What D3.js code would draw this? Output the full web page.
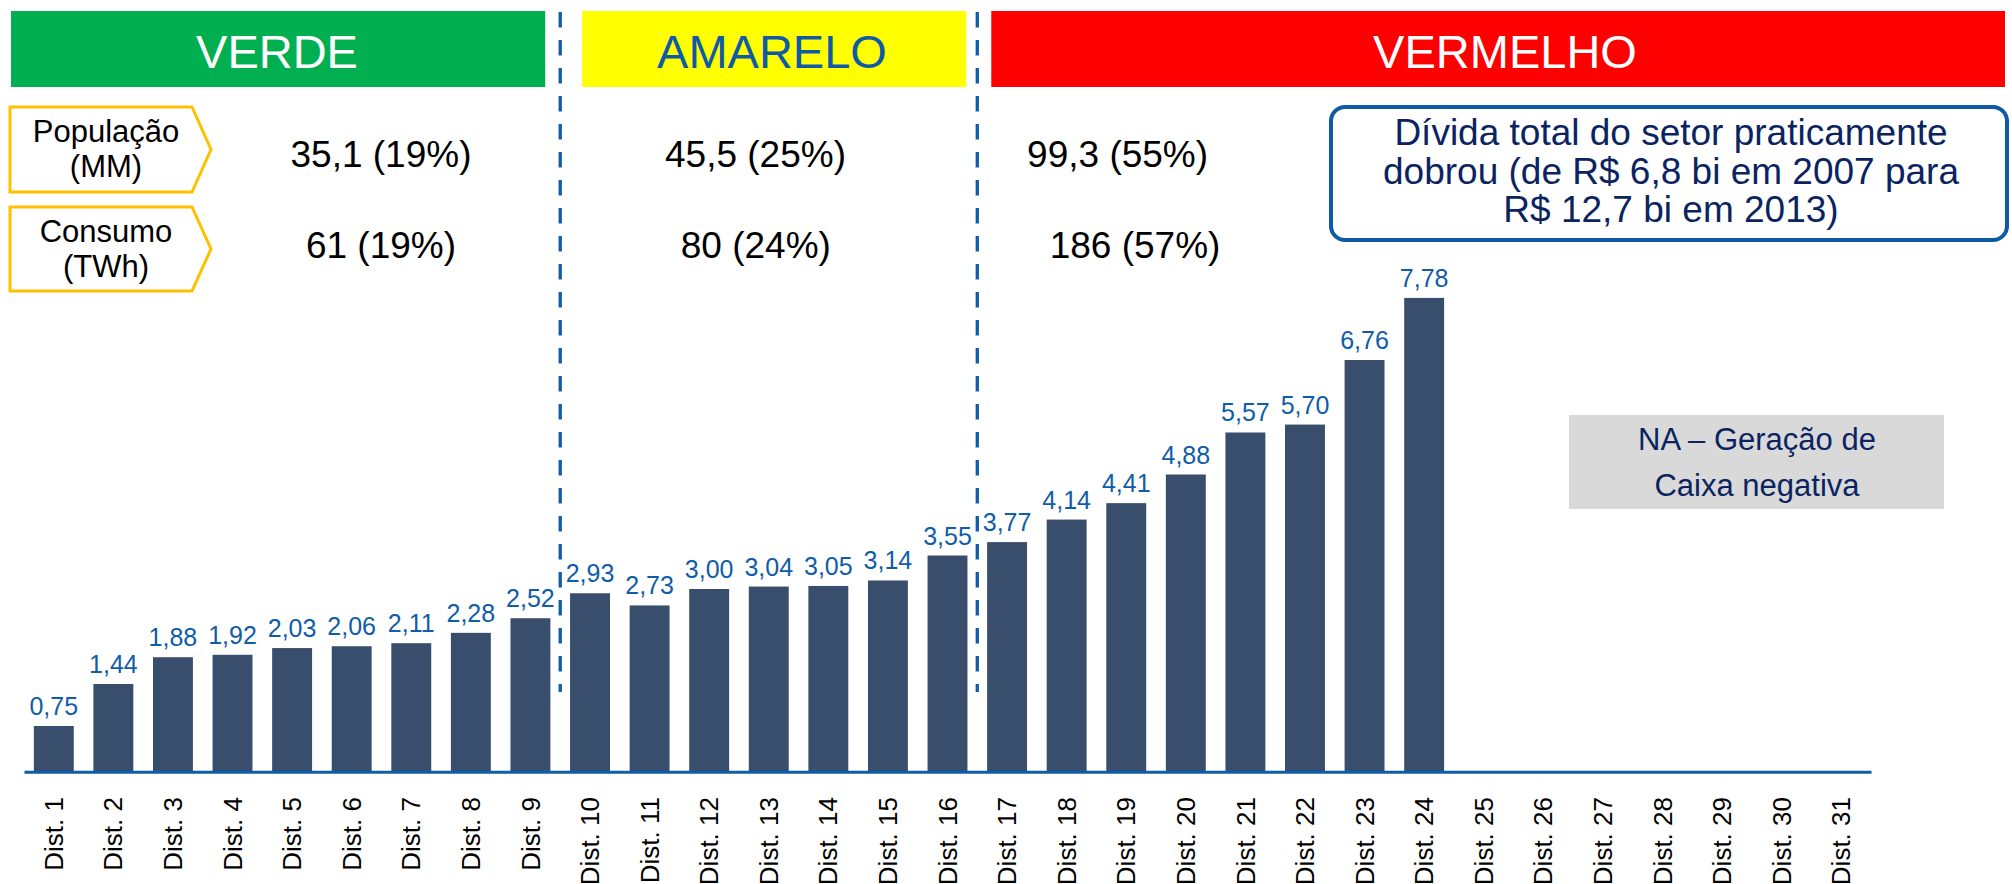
<!DOCTYPE html>
<html>
<head>
<meta charset="utf-8">
<script src="https://cdn.jsdelivr.net/npm/d3@7"></script>
<style>
  body { margin: 0; background: #fff; }
  svg { display: block; font-family: "Liberation Sans", Arial, sans-serif; }
</style>
</head>
<body>
<svg></svg>
<script>
// data
const categories = d3.range(1, 32).map(i => "Dist. " + i);
const values = [0.75, 1.44, 1.88, 1.92, 2.03, 2.06, 2.11, 2.28, 2.52,
                2.93, 2.73, 3.00, 3.04, 3.05, 3.14, 3.55,
                3.77, 4.14, 4.41, 4.88, 5.57, 5.70, 6.76, 7.78,
                null, null, null, null, null, null, null];
const groupNames = ["VERDE", "AMARELO", "VERMELHO"];
const groupFirst = ["Dist. 1", "Dist. 10", "Dist. 17"];
const populacao = ["35,1 (19%)", "45,5 (25%)", "99,3 (55%)"];
const consumo = ["61 (19%)", "80 (24%)", "186 (57%)"];
const rowLabels = [["População", "(MM)"], ["Consumo", "(TWh)"]];
const noteLines = ["Dívida total do setor praticamente", "dobrou (de R$ 6,8 bi em 2007 para", "R$ 12,7 bi em 2013)"];
const naLines = ["NA – Geração de", "Caixa negativa"];

const data = categories.map((c, i) => ({ cat: c, value: values[i] }));

const width = 2012, height = 884;
const baseY = 771.7;
const blue = "#0f5ca8";
const navy = "#0b2461";

const svg = d3.select("svg").attr("width", width).attr("height", height);

const x = d3.scaleBand().domain(categories).range([24, 1871]).paddingInner(0.33).paddingOuter(0.165);
const y = d3.scaleLinear().domain([0, 8]).range([baseY, baseY - 8 * 60.9]);

// divider positions from the band scale
const divX = groupFirst.slice(1).map(c => x(c) - x.step() * x.paddingInner() / 2);

// group banners
const bannerX = [[11, divX[0] - 15], [divX[0] + 22, divX[1] - 11], [divX[1] + 14, 2005]];
const bannerFill = ["#00b050", "#ffff00", "#ff0000"];
const bannerText = ["#ffffff", "#0f5aa6", "#ffffff"];
const bannerTextX = [277, 772, 1505];

groupNames.forEach((g, i) => {
  svg.append("rect")
    .attr("x", bannerX[i][0]).attr("y", 11)
    .attr("width", bannerX[i][1] - bannerX[i][0]).attr("height", 76)
    .attr("fill", bannerFill[i]);
  svg.append("text")
    .attr("x", bannerTextX[i]).attr("y", 68)
    .attr("text-anchor", "middle")
    .attr("font-size", 47)
    .attr("fill", bannerText[i])
    .text(g);
});

// dashed dividers
divX.forEach(dx => {
  svg.append("line")
    .attr("x1", dx).attr("x2", dx)
    .attr("y1", 12).attr("y2", 692)
    .attr("stroke", blue).attr("stroke-width", 3.3)
    .attr("stroke-dasharray", "15.5 12.5");
});

// row label arrows
const rowTop = [107, 207], rowBot = [192, 291];
rowLabels.forEach((lines, r) => {
  const t = rowTop[r], b = rowBot[r], m = (t + b) / 2;
  svg.append("polygon")
    .attr("points", [[10, t], [192, t], [211, m], [192, b], [10, b]].map(p => p.join(",")).join(" "))
    .attr("fill", "#fff").attr("stroke", "#ffc000").attr("stroke-width", 3);
  lines.forEach((l, k) => {
    svg.append("text")
      .attr("x", 106).attr("y", (r === 0 ? 142 : 242) + k * 35)
      .attr("text-anchor", "middle").attr("font-size", 31)
      .attr("fill", "#000").text(l);
  });
});

// row values
const popX = [381, 755.5, 1117.6], consX = [381, 755.8, 1135];
populacao.forEach((v, i) => {
  svg.append("text").attr("x", popX[i]).attr("y", 167)
    .attr("text-anchor", "middle").attr("font-size", 37).attr("fill", "#000").text(v);
});
consumo.forEach((v, i) => {
  svg.append("text").attr("x", consX[i]).attr("y", 258)
    .attr("text-anchor", "middle").attr("font-size", 37).attr("fill", "#000").text(v);
});

// note box
svg.append("rect")
  .attr("x", 1331).attr("y", 107).attr("width", 676).attr("height", 133)
  .attr("rx", 14).attr("fill", "#fff")
  .attr("stroke", "#0f5aa6").attr("stroke-width", 4);
noteLines.forEach((l, k) => {
  svg.append("text").attr("x", 1671).attr("y", 145 + k * 38.5)
    .attr("text-anchor", "middle").attr("font-size", 37)
    .attr("fill", navy).text(l);
});

// NA box
svg.append("rect")
  .attr("x", 1569).attr("y", 415).attr("width", 375).attr("height", 94)
  .attr("fill", "#d9d9d9");
naLines.forEach((l, k) => {
  svg.append("text").attr("x", 1757).attr("y", 450 + k * 46)
    .attr("text-anchor", "middle").attr("font-size", 31)
    .attr("fill", navy).text(l);
});

// bars
const withVal = data.filter(d => d.value != null);
svg.selectAll("rect.bar")
  .data(withVal)
  .enter()
  .append("rect")
    .classed("bar", true)
    .attr("x", d => x(d.cat))
    .attr("y", d => y(d.value))
    .attr("width", x.bandwidth())
    .attr("height", d => y(0) - y(d.value))
    .attr("fill", "#394d6c");

// value labels
svg.selectAll("text.val")
  .data(withVal)
  .enter()
  .append("text")
    .classed("val", true)
    .attr("x", d => x(d.cat) + x.bandwidth() / 2)
    .attr("y", d => y(d.value) - 11)
    .attr("text-anchor", "middle")
    .attr("font-size", 25)
    .attr("fill", blue)
    .text(d => d.value.toFixed(2).replace(".", ","));

// x axis
const xAxis = d3.axisBottom(x).tickSize(0).tickSizeOuter(0);
const gx = svg.append("g")
  .attr("transform", `translate(0, ${baseY})`)
  .call(xAxis);
gx.select(".domain").attr("stroke", blue).attr("stroke-width", 3);
gx.selectAll("text")
  .attr("transform", "rotate(-90)")
  .attr("x", -25.3)
  .attr("y", 0)
  .attr("dy", "0.35em")
  .style("text-anchor", "end")
  .attr("font-size", 26)
  .attr("font-family", "Liberation Sans, Arial, sans-serif")
  .attr("fill", "#000");
</script>
</body>
</html>
